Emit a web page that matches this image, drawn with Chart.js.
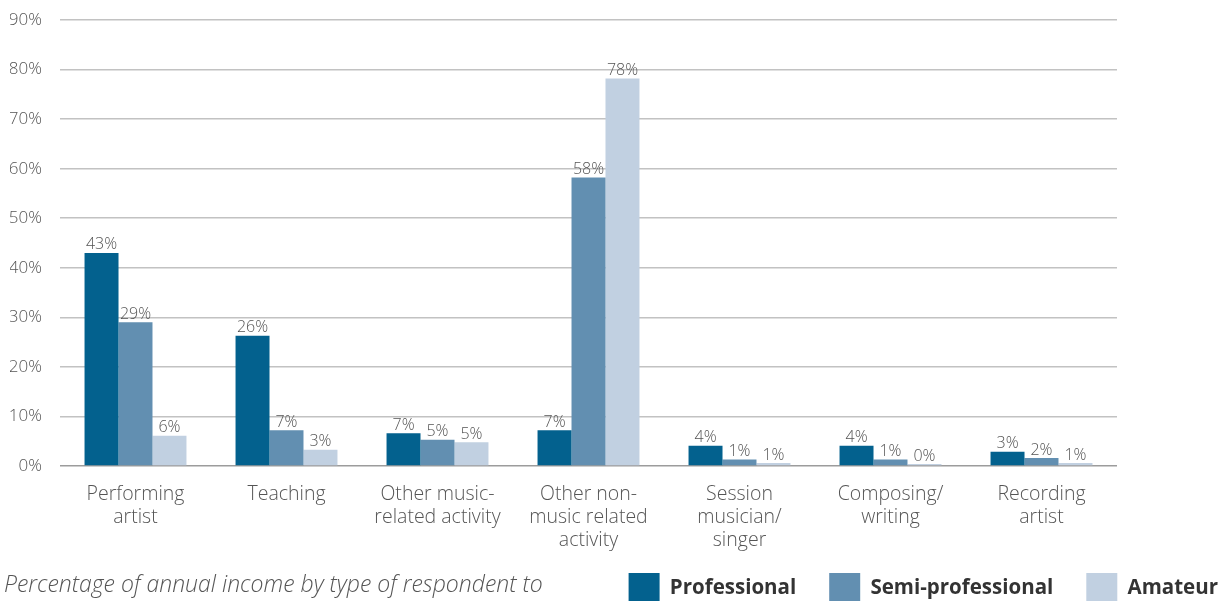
<!DOCTYPE html>
<html>
<head>
<meta charset="utf-8">
<script src="https://cdn.jsdelivr.net/npm/chart.js@4/dist/chart.umd.min.js"></script>
<style>
  html, body { margin: 0; padding: 0; background: #fff; }
  #wrap { position: relative; width: 1220px; height: 601px; overflow: hidden; }
  #caption {
    position: absolute; left: 4px; top: 567px;
    font: italic 300 23px "Open Sans", sans-serif; color: #555;
    white-space: nowrap;
  }
</style>
</head>
<body>
<div id="wrap">
  <canvas id="chart" width="1220" height="601"></canvas>
  <div id="caption">Percentage of annual income by type of respondent to</div>
</div>
<script>
"use strict";

// income sources, one group of bars each
var categories = [
  ["Performing", "artist"],
  "Teaching",
  ["Other music-", "related activity"],
  ["Other non-", "music related", "activity"],
  ["Session", "musician/", "singer"],
  ["Composing/", "writing"],
  ["Recording", "artist"]
];

// share of annual income, percent
var professional = [43, 26.3, 6.6, 7.2, 4.1, 4.1, 2.9];
var semiProfessional = [29, 7.2, 5.3, 58.2, 1.3, 1.3, 1.6];
var amateur = [6.1, 3.3, 4.8, 78.2, 0.6, 0.4, 0.6];

var yTicks = [0, 10, 20, 30, 40, 50, 60, 70, 80, 90];

var FONT = "'Open Sans', sans-serif";

// value labels over each bar
var barLabels = {
  id: "barLabels",
  afterDatasetsDraw: function (chart) {
    var ctx = chart.ctx;
    ctx.save();
    ctx.font = "300 16px " + FONT;
    ctx.fillStyle = "#555";
    ctx.textAlign = "center";
    ctx.textBaseline = "bottom";
    chart.data.datasets.forEach(function (ds, i) {
      chart.getDatasetMeta(i).data.forEach(function (bar, j) {
        ctx.fillText(Math.round(ds.data[j]) + "%", bar.x, bar.y);
      });
    });
    ctx.restore();
  }
};

// category labels run deeper than the x axis box; widen its clip area
var xLabelRoom = {
  id: "xLabelRoom",
  afterLayout: function (chart) {
    chart.scales.x.bottom += 30;
  }
};

new Chart(document.getElementById("chart"), {
  type: "bar",
  data: {
    labels: categories,
    datasets: [
      { label: "Professional", data: professional, backgroundColor: "#03618e" },
      { label: "Semi-professional", data: semiProfessional, backgroundColor: "#628fb1" },
      { label: "Amateur", data: amateur, backgroundColor: "#c1d0e1" }
    ]
  },
  options: {
    responsive: false,
    animation: false,
    layout: { padding: { left: 10, top: 20, right: -31, bottom: -12 } },
    datasets: {
      bar: { barPercentage: 1, categoryPercentage: 0.675 }
    },
    scales: {
      x: {
        grid: { display: false },
        border: { display: false },
        ticks: {
          color: "#555",
          font: { family: FONT, size: 19.5, weight: 300, lineHeight: 1.18 },
          padding: 9,
          maxRotation: 0,
          autoSkip: false
        },
        afterFit: function (scale) { scale.height = 74; }
      },
      y: {
        min: 0,
        max: 90,
        afterBuildTicks: function (scale) {
          scale.ticks = yTicks.map(function (v) { return { value: v }; });
        },
        afterFit: function (scale) {
          scale.width = 50;
          scale.paddingTop = 0;
          scale.paddingBottom = 0;
        },
        grid: {
          drawTicks: false,
          color: function (c) { return c.tick && c.tick.value === 0 ? "#9c9c9c" : "#c2c2c2"; },
          lineWidth: 1.5
        },
        border: { display: false },
        ticks: {
          color: "#555",
          font: { family: FONT, size: 17, weight: 300 },
          padding: 18,
          callback: function (v) { return v + "%"; }
        }
      },
      // empty right-hand axis that only reserves margin
      pad: {
        position: "right",
        display: true,
        grid: { display: false },
        border: { display: false },
        ticks: { display: false },
        afterFit: function (scale) { scale.width = 134; }
      }
    },
    plugins: {
      legend: {
        position: "bottom",
        align: "end",
        labels: {
          color: "#333",
          font: { family: FONT, size: 20.5, weight: "bold" },
          boxWidth: 31,
          boxHeight: 30,
          padding: 33
        }
      },
      tooltip: { enabled: false }
    }
  },
  plugins: [barLabels, xLabelRoom]
});
</script>
</body>
</html>
